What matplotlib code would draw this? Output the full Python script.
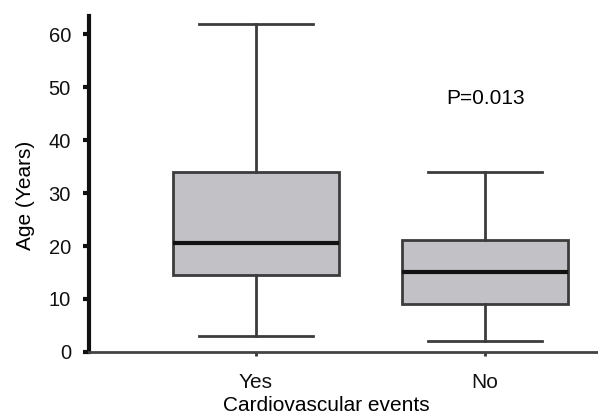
import matplotlib.pyplot as plt

# box statistics
groups = ["Yes", "No"]
whislo = [3.0, 2.1]
q1 = [14.5, 9.1]
med = [20.6, 15.1]
q3 = [34.0, 21.1]
whishi = [61.8, 34.0]
p_text = "P=0.013"

plt.rcParams['font.family'] = ['Liberation Sans', 'DejaVu Sans']

fig = plt.figure(figsize=(5.98, 4.17), dpi=100)
ax = fig.add_axes([0.1488, 0.1559, 0.8512, 0.8057])

stats = []
for i in range(len(groups)):
    stats.append({"label": groups[i], "whislo": whislo[i], "q1": q1[i], "med": med[i],
                  "q3": q3[i], "whishi": whishi[i], "fliers": []})

ax.bxp(stats, positions=[1, 2], widths=0.725, capwidths=0.5, patch_artist=True, showfliers=False,
       boxprops=dict(facecolor="#c2c2c6", edgecolor="#3c3c3c", linewidth=2),
       medianprops=dict(color="#111111", linewidth=3),
       whiskerprops=dict(color="#3c3c3c", linewidth=2),
       capprops=dict(color="#3c3c3c", linewidth=2))

ax.set_xlim(0.271, 2.493)
ax.set_ylim(0, 63.4)
ax.set_yticks([0, 10, 20, 30, 40, 50, 60])
ax.set_xticks([1, 2])
ax.set_xticklabels(groups)

ax.spines['top'].set_visible(False)
ax.spines['right'].set_visible(False)
ax.spines['left'].set_linewidth(3)
ax.spines['left'].set_color("#111111")
ax.spines['bottom'].set_linewidth(2)
ax.spines['bottom'].set_color("#444444")

ax.tick_params(axis='y', direction='out', length=4, width=3, labelsize=14.5, pad=9, colors="#111111")
ax.tick_params(axis='x', direction='out', length=3, width=2, labelsize=15, pad=12, colors="#333333")
for lab in ax.get_xticklabels() + ax.get_yticklabels():
    lab.set_color("#111111")

ax.set_ylabel("Age (Years)", fontsize=15)
ax.yaxis.set_label_coords(-0.106, 0.467)
ax.set_xlabel("Cardiovascular events", fontsize=15)
ax.xaxis.set_label_coords(0.466, -0.132)

ax.text(2, 47.9, p_text, ha='center', va='center', fontsize=15)

fig.savefig("out.png", dpi=100)
